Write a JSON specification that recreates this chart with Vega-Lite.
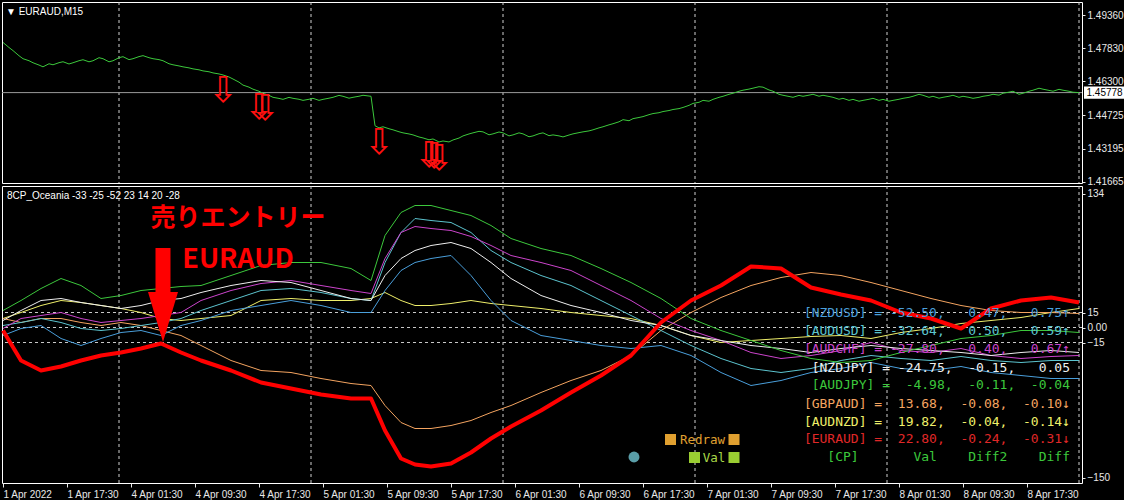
{
  "$schema": "https://vega.github.io/schema/vega-lite/v6.json",
  "background": "#000000",
  "padding": {"left": 0, "top": 1, "right": 0, "bottom": 0},
  "spacing": 3,
  "bounds": "flush",
  "config": {
    "view": {"stroke": "#FFFFFF", "strokeWidth": 1},
    "line": {"strokeJoin": "round"},
    "rule": {"strokeJoin": "round"},
    "axis": {"labelColor": "#E8E8E8", "tickColor": "#E8E8E8", "domain": false, "grid": false, "labelFont": "Liberation Sans", "labelFontSize": 10, "tickSize": 4, "labelOverlap": false, "labelFlush": false}
  },
  "datasets": {
    "grid": [{"i": 58}, {"i": 154}, {"i": 250}, {"i": 346}, {"i": 442}, {"i": 538}],
    "price": [
      {"i":0,"p":1.48094},{"i":3,"p":1.47860},{"i":5,"p":1.47718},{"i":8,"p":1.47480},{"i":10,"p":1.47343},{"i":13,"p":1.47250},{"i":15,"p":1.47156},{"i":18,"p":1.47050},{"i":20,"p":1.46968},{"i":23,"p":1.47110},{"i":25,"p":1.47062},{"i":28,"p":1.47160},{"i":30,"p":1.47203},{"i":33,"p":1.47100},{"i":35,"p":1.47156},{"i":38,"p":1.47250},{"i":40,"p":1.47296},{"i":43,"p":1.47200},{"i":45,"p":1.47249},{"i":48,"p":1.47390},{"i":50,"p":1.47343},{"i":53,"p":1.47200},{"i":55,"p":1.47249},{"i":58,"p":1.47390},{"i":60,"p":1.47437},{"i":63,"p":1.47300},{"i":65,"p":1.47343},{"i":68,"p":1.47440},{"i":70,"p":1.47484},{"i":73,"p":1.47390},{"i":75,"p":1.47343},{"i":78,"p":1.47300},{"i":80,"p":1.47249},{"i":83,"p":1.47110},{"i":85,"p":1.47062},{"i":88,"p":1.47010},{"i":90,"p":1.46968},{"i":93,"p":1.46920},{"i":95,"p":1.46874},{"i":98,"p":1.46830},{"i":100,"p":1.4678},{"i":103,"p":1.46740},{"i":105,"p":1.46687},{"i":108,"p":1.46640},{"i":110,"p":1.46593},{"i":113,"p":1.46500},{"i":115,"p":1.46405},{"i":118,"p":1.46260},{"i":120,"p":1.46124},{"i":123,"p":1.46030},{"i":125,"p":1.45936},{"i":128,"p":1.45840},{"i":130,"p":1.45749},{"i":133,"p":1.45650},{"i":135,"p":1.45561},{"i":138,"p":1.45510},{"i":140,"p":1.45467},{"i":143,"p":1.45560},{"i":145,"p":1.45514},{"i":148,"p":1.45470},{"i":150,"p":1.4542},{"i":153,"p":1.45470},{"i":155,"p":1.45514},{"i":158,"p":1.45420},{"i":160,"p":1.45467},{"i":163,"p":1.45520},{"i":165,"p":1.45561},{"i":168,"p":1.45650},{"i":170,"p":1.45608},{"i":173,"p":1.45520},{"i":175,"p":1.45561},{"i":178,"p":1.45610},{"i":180,"p":1.45655},{"i":184,"p":1.45608},{"i":186,"p":1.44248},{"i":188,"p":1.44150},{"i":190,"p":1.44201},{"i":193,"p":1.44110},{"i":195,"p":1.4406},{"i":198,"p":1.43970},{"i":200,"p":1.4392},{"i":203,"p":1.43870},{"i":205,"p":1.43826},{"i":208,"p":1.43730},{"i":210,"p":1.43685},{"i":213,"p":1.43600},{"i":215,"p":1.43638},{"i":218,"p":1.43500},{"i":220,"p":1.43544},{"i":223,"p":1.43500},{"i":225,"p":1.43591},{"i":228,"p":1.43680},{"i":230,"p":1.43779},{"i":233,"p":1.43870},{"i":235,"p":1.4392},{"i":238,"p":1.43990},{"i":240,"p":1.43966},{"i":243,"p":1.43830},{"i":245,"p":1.43873},{"i":248,"p":1.43960},{"i":250,"p":1.4392},{"i":253,"p":1.43780},{"i":255,"p":1.43826},{"i":258,"p":1.43920},{"i":260,"p":1.43873},{"i":263,"p":1.43740},{"i":265,"p":1.43779},{"i":268,"p":1.43880},{"i":270,"p":1.4392},{"i":273,"p":1.43790},{"i":275,"p":1.43826},{"i":278,"p":1.43780},{"i":280,"p":1.43732},{"i":283,"p":1.43820},{"i":285,"p":1.43873},{"i":288,"p":1.43930},{"i":290,"p":1.43966},{"i":293,"p":1.44010},{"i":295,"p":1.4406},{"i":298,"p":1.44150},{"i":300,"p":1.44201},{"i":303,"p":1.44290},{"i":305,"p":1.44342},{"i":308,"p":1.44430},{"i":310,"p":1.44529},{"i":313,"p":1.44480},{"i":315,"p":1.44576},{"i":318,"p":1.44630},{"i":320,"p":1.4467},{"i":323,"p":1.44760},{"i":325,"p":1.44811},{"i":328,"p":1.44850},{"i":330,"p":1.44904},{"i":333,"p":1.44950},{"i":335,"p":1.44998},{"i":338,"p":1.45040},{"i":340,"p":1.45092},{"i":343,"p":1.45190},{"i":345,"p":1.4528},{"i":348,"p":1.45330},{"i":350,"p":1.4542},{"i":353,"p":1.45380},{"i":355,"p":1.45467},{"i":358,"p":1.45560},{"i":360,"p":1.45608},{"i":363,"p":1.45700},{"i":365,"p":1.45749},{"i":368,"p":1.45840},{"i":370,"p":1.45889},{"i":373,"p":1.45940},{"i":375,"p":1.45983},{"i":378,"p":1.46050},{"i":380,"p":1.4603},{"i":383,"p":1.45900},{"i":385,"p":1.45842},{"i":388,"p":1.45700},{"i":390,"p":1.45655},{"i":393,"p":1.45600},{"i":395,"p":1.45561},{"i":398,"p":1.45650},{"i":400,"p":1.45608},{"i":403,"p":1.45660},{"i":405,"p":1.45702},{"i":408,"p":1.45610},{"i":410,"p":1.45655},{"i":413,"p":1.45600},{"i":415,"p":1.45561},{"i":418,"p":1.45470},{"i":420,"p":1.45514},{"i":423,"p":1.45420},{"i":425,"p":1.45467},{"i":428,"p":1.45380},{"i":430,"p":1.4542},{"i":433,"p":1.45470},{"i":435,"p":1.45514},{"i":438,"p":1.45420},{"i":440,"p":1.45467},{"i":443,"p":1.45380},{"i":445,"p":1.4542},{"i":448,"p":1.45470},{"i":450,"p":1.45514},{"i":453,"p":1.45560},{"i":455,"p":1.45608},{"i":458,"p":1.45700},{"i":460,"p":1.45655},{"i":463,"p":1.45560},{"i":465,"p":1.45608},{"i":468,"p":1.45520},{"i":470,"p":1.45561},{"i":473,"p":1.45610},{"i":475,"p":1.45655},{"i":478,"p":1.45560},{"i":480,"p":1.45608},{"i":483,"p":1.45560},{"i":485,"p":1.45514},{"i":488,"p":1.45560},{"i":490,"p":1.45608},{"i":493,"p":1.45650},{"i":495,"p":1.45702},{"i":498,"p":1.45660},{"i":500,"p":1.45749},{"i":503,"p":1.45800},{"i":505,"p":1.45842},{"i":508,"p":1.45700},{"i":510,"p":1.45749},{"i":513,"p":1.45840},{"i":515,"p":1.45889},{"i":518,"p":1.45980},{"i":520,"p":1.45936},{"i":523,"p":1.45880},{"i":525,"p":1.45842},{"i":528,"p":1.45930},{"i":530,"p":1.45889},{"i":533,"p":1.45840},{"i":535,"p":1.45796},{"i":538,"p":1.45778}
    ],
    "signals": [
      {"i":110,"p":1.45852},{"i":128,"p":1.4508},{"i":131,"p":1.4502},{"i":188,"p":1.43452},{"i":213,"p":1.4285},{"i":215.5,"p":1.4279},{"i":218,"p":1.4273}
    ],
    "series": [
      {"i":0,"EURAUD":-3,"GBPAUD":9,"AUDNZD":9,"NZDUSD":-8,"AUDUSD":2,"AUDCHF":-1,"NZDJPY":7,"AUDJPY":17},
      {"i":9,"EURAUD":-33,"GBPAUD":5,"AUDNZD":15,"NZDUSD":-1,"AUDUSD":5,"AUDCHF":9,"NZDJPY":17,"AUDJPY":27},
      {"i":19,"EURAUD":-43,"GBPAUD":9,"AUDNZD":22,"NZDUSD":2,"AUDUSD":9,"AUDCHF":12,"NZDJPY":27,"AUDJPY":39},
      {"i":29,"EURAUD":-39,"GBPAUD":9,"AUDNZD":27,"NZDUSD":-11,"AUDUSD":5,"AUDCHF":15,"NZDJPY":29,"AUDJPY":49},
      {"i":39,"EURAUD":-33,"GBPAUD":5,"AUDNZD":25,"NZDUSD":-18,"AUDUSD":-1,"AUDCHF":9,"NZDJPY":25,"AUDJPY":42},
      {"i":49,"EURAUD":-28,"GBPAUD":2,"AUDNZD":22,"NZDUSD":-11,"AUDUSD":-3,"AUDCHF":5,"NZDJPY":22,"AUDJPY":29},
      {"i":59,"EURAUD":-25,"GBPAUD":5,"AUDNZD":19,"NZDUSD":-5,"AUDUSD":-1,"AUDCHF":7,"NZDJPY":19,"AUDJPY":32},
      {"i":69,"EURAUD":-21,"GBPAUD":2,"AUDNZD":15,"NZDUSD":-3,"AUDUSD":2,"AUDCHF":9,"NZDJPY":22,"AUDJPY":37},
      {"i":79,"EURAUD":-16,"GBPAUD":-3,"AUDNZD":9,"NZDUSD":-8,"AUDUSD":5,"AUDCHF":12,"NZDJPY":27,"AUDJPY":39},
      {"i":89,"EURAUD":-25,"GBPAUD":-8,"AUDNZD":7,"NZDUSD":2,"AUDUSD":9,"AUDCHF":15,"NZDJPY":29,"AUDJPY":41},
      {"i":99,"EURAUD":-33,"GBPAUD":-18,"AUDNZD":9,"NZDUSD":7,"AUDUSD":17,"AUDCHF":27,"NZDJPY":35,"AUDJPY":42},
      {"i":114,"EURAUD":-43,"GBPAUD":-33,"AUDNZD":12,"NZDUSD":17,"AUDUSD":27,"AUDCHF":37,"NZDJPY":42,"AUDJPY":52},
      {"i":129,"EURAUD":-55,"GBPAUD":-43,"AUDNZD":27,"NZDUSD":22,"AUDUSD":37,"AUDCHF":44,"NZDJPY":47,"AUDJPY":62},
      {"i":144,"EURAUD":-61,"GBPAUD":-45,"AUDNZD":29,"NZDUSD":27,"AUDUSD":39,"AUDCHF":47,"NZDJPY":45,"AUDJPY":65},
      {"i":159,"EURAUD":-67,"GBPAUD":-51,"AUDNZD":27,"NZDUSD":22,"AUDUSD":35,"AUDCHF":42,"NZDJPY":37,"AUDJPY":65},
      {"i":174,"EURAUD":-71,"GBPAUD":-56,"AUDNZD":27,"NZDUSD":15,"AUDUSD":29,"AUDCHF":37,"NZDJPY":29,"AUDJPY":59},
      {"i":184,"EURAUD":-71,"GBPAUD":-58,"AUDNZD":29,"NZDUSD":15,"AUDUSD":27,"AUDCHF":34,"NZDJPY":27,"AUDJPY":47},
      {"i":191,"EURAUD":-103,"GBPAUD":-78,"AUDNZD":35,"NZDUSD":37,"AUDUSD":65,"AUDCHF":69,"NZDJPY":52,"AUDJPY":92},
      {"i":199,"EURAUD":-131,"GBPAUD":-95,"AUDNZD":27,"NZDUSD":57,"AUDUSD":95,"AUDCHF":95,"NZDJPY":69,"AUDJPY":115},
      {"i":206,"EURAUD":-137,"GBPAUD":-101,"AUDNZD":22,"NZDUSD":65,"AUDUSD":109,"AUDCHF":101,"NZDJPY":77,"AUDJPY":122},
      {"i":214,"EURAUD":-139,"GBPAUD":-101,"AUDNZD":22,"NZDUSD":69,"AUDUSD":107,"AUDCHF":99,"NZDJPY":82,"AUDJPY":122},
      {"i":224,"EURAUD":-136,"GBPAUD":-98,"AUDNZD":24,"NZDUSD":72,"AUDUSD":105,"AUDCHF":97,"NZDJPY":85,"AUDJPY":117},
      {"i":234,"EURAUD":-125,"GBPAUD":-93,"AUDNZD":27,"NZDUSD":52,"AUDUSD":95,"AUDCHF":91,"NZDJPY":79,"AUDJPY":112},
      {"i":244,"EURAUD":-111,"GBPAUD":-85,"AUDNZD":24,"NZDUSD":27,"AUDUSD":77,"AUDCHF":82,"NZDJPY":65,"AUDJPY":102},
      {"i":254,"EURAUD":-99,"GBPAUD":-78,"AUDNZD":22,"NZDUSD":7,"AUDUSD":65,"AUDCHF":72,"NZDJPY":49,"AUDJPY":89},
      {"i":269,"EURAUD":-83,"GBPAUD":-65,"AUDNZD":19,"NZDUSD":-8,"AUDUSD":52,"AUDCHF":65,"NZDJPY":32,"AUDJPY":79},
      {"i":284,"EURAUD":-65,"GBPAUD":-53,"AUDNZD":15,"NZDUSD":-13,"AUDUSD":42,"AUDCHF":57,"NZDJPY":22,"AUDJPY":72},
      {"i":299,"EURAUD":-48,"GBPAUD":-43,"AUDNZD":12,"NZDUSD":-18,"AUDUSD":27,"AUDCHF":42,"NZDJPY":15,"AUDJPY":59},
      {"i":314,"EURAUD":-28,"GBPAUD":-28,"AUDNZD":9,"NZDUSD":-21,"AUDUSD":12,"AUDCHF":27,"NZDJPY":7,"AUDJPY":45},
      {"i":329,"EURAUD":5,"GBPAUD":-3,"AUDNZD":2,"NZDUSD":-18,"AUDUSD":-3,"AUDCHF":9,"NZDJPY":2,"AUDJPY":29},
      {"i":344,"EURAUD":27,"GBPAUD":15,"AUDNZD":-8,"NZDUSD":-28,"AUDUSD":-18,"AUDCHF":-3,"NZDJPY":-8,"AUDJPY":9},
      {"i":359,"EURAUD":42,"GBPAUD":30,"AUDNZD":-15,"NZDUSD":-45,"AUDUSD":-31,"AUDCHF":-13,"NZDJPY":-13,"AUDJPY":-3},
      {"i":374,"EURAUD":61,"GBPAUD":42,"AUDNZD":-13,"NZDUSD":-58,"AUDUSD":-41,"AUDCHF":-25,"NZDJPY":-18,"AUDJPY":-13},
      {"i":389,"EURAUD":59,"GBPAUD":50,"AUDNZD":-11,"NZDUSD":-53,"AUDUSD":-45,"AUDCHF":-31,"NZDJPY":-21,"AUDJPY":-23},
      {"i":404,"EURAUD":40,"GBPAUD":55,"AUDNZD":-9,"NZDUSD":-45,"AUDUSD":-41,"AUDCHF":-28,"NZDJPY":-25,"AUDJPY":-31},
      {"i":419,"EURAUD":33,"GBPAUD":52,"AUDNZD":-8,"NZDUSD":-41,"AUDUSD":-33,"AUDCHF":-23,"NZDJPY":-21,"AUDJPY":-35},
      {"i":434,"EURAUD":27,"GBPAUD":45,"AUDNZD":-11,"NZDUSD":-35,"AUDUSD":-28,"AUDCHF":-15,"NZDJPY":-18,"AUDJPY":-33},
      {"i":449,"EURAUD":15,"GBPAUD":37,"AUDNZD":-5,"NZDUSD":-41,"AUDUSD":-31,"AUDCHF":-23,"NZDJPY":-21,"AUDJPY":-25},
      {"i":464,"EURAUD":9,"GBPAUD":29,"AUDNZD":-1,"NZDUSD":-43,"AUDUSD":-33,"AUDCHF":-25,"NZDJPY":-23,"AUDJPY":-18},
      {"i":479,"EURAUD":-1,"GBPAUD":22,"AUDNZD":4,"NZDUSD":-39,"AUDUSD":-29,"AUDCHF":-21,"NZDJPY":-25,"AUDJPY":-11},
      {"i":494,"EURAUD":19,"GBPAUD":17,"AUDNZD":7,"NZDUSD":-45,"AUDUSD":-33,"AUDCHF":-28,"NZDJPY":-28,"AUDJPY":-8},
      {"i":509,"EURAUD":27,"GBPAUD":15,"AUDNZD":10,"NZDUSD":-48,"AUDUSD":-35,"AUDCHF":-31,"NZDJPY":-25,"AUDJPY":-3},
      {"i":524,"EURAUD":30,"GBPAUD":15,"AUDNZD":15,"NZDUSD":-51,"AUDUSD":-33,"AUDCHF":-29,"NZDJPY":-23,"AUDJPY":-3},
      {"i":538,"EURAUD":25,"GBPAUD":14,"AUDNZD":19,"NZDUSD":-51,"AUDUSD":-33,"AUDCHF":-28,"NZDJPY":-25,"AUDJPY":-5}
    ],
    "levels": [{"v": 15}, {"v": 0}, {"v": -15}],
    "table": [
      {"pair":"NZDUSD","i":533.5,"v":14.5,"txt":"[NZDUSD]\u00a0=\u00a0-52.50,\u00a0\u00a0\u00a00.47,\u00a0\u00a0\u00a00.75↑"},
      {"pair":"AUDUSD","i":533.5,"v":-3.5,"txt":"[AUDUSD]\u00a0=\u00a0-32.64,\u00a0\u00a0\u00a00.50,\u00a0\u00a0\u00a00.59↑"},
      {"pair":"AUDCHF","i":533.5,"v":-21.5,"txt":"[AUDCHF]\u00a0=\u00a0-27.80,\u00a0\u00a0\u00a00.40,\u00a0\u00a0\u00a00.67↑"},
      {"pair":"NZDJPY","i":533.5,"v":-40.5,"txt":"[NZDJPY]\u00a0=\u00a0-24.75,\u00a0\u00a0-0.15,\u00a0\u00a0\u00a00.05"},
      {"pair":"AUDJPY","i":533.5,"v":-57.5,"txt":"[AUDJPY]\u00a0=\u00a0\u00a0-4.98,\u00a0\u00a0-0.11,\u00a0\u00a0-0.04"},
      {"pair":"GBPAUD","i":533.5,"v":-76.5,"txt":"[GBPAUD]\u00a0=\u00a0\u00a013.68,\u00a0\u00a0-0.08,\u00a0\u00a0-0.10↓"},
      {"pair":"AUDNZD","i":533.5,"v":-94.5,"txt":"[AUDNZD]\u00a0=\u00a0\u00a019.82,\u00a0\u00a0-0.04,\u00a0\u00a0-0.14↓"},
      {"pair":"EURAUD","i":533.5,"v":-111.5,"txt":"[EURAUD]\u00a0=\u00a0\u00a022.80,\u00a0\u00a0-0.24,\u00a0\u00a0-0.31↓"},
      {"pair":"CP","i":533.5,"v":-129.5,"txt":"[CP]\u00a0\u00a0\u00a0\u00a0\u00a0\u00a0\u00a0Val\u00a0\u00a0\u00a0\u00a0Diff2\u00a0\u00a0\u00a0\u00a0Diff"}
    ]
  },
  "vconcat": [
    {
      "width": 1080,
      "height": 181,
      "resolve": {"axis": {"x": "independent", "y": "independent"}},
      "layer": [
        {
          "data": {"name": "grid"},
          "mark": {"type": "rule", "color": "#D0D0D0", "strokeDash": [3, 3], "strokeWidth": 1},
          "encoding": {"x": {"field": "i", "type": "quantitative", "scale": {"domain": [-0.5, 539.5], "nice": false, "zero": false}, "axis": null}}
        },
        {
          "data": {"values": [{}]},
          "mark": {"type": "rule", "color": "#9A9A9A", "strokeWidth": 1},
          "encoding": {"y": {"datum": 1.45778, "type": "quantitative", "scale": {"domain": [1.41605, 1.49961], "nice": false, "zero": false}, "axis": null}}
        },
        {
          "data": {"name": "price"},
          "mark": {"type": "line", "color": "#3CC83C", "strokeWidth": 1},
          "encoding": {
            "x": {"field": "i", "type": "quantitative", "axis": null},
            "y": {"field": "p", "type": "quantitative",
                  "axis": {"orient": "right", "title": null, "values": [1.4936, 1.4783, 1.463, 1.44725, 1.43195, 1.41665], "format": ".5f", "tickSize": 3, "labelPadding": 2}}
          }
        },
        {
          "data": {"name": "signals"},
          "mark": {"type": "text", "text": "⇩", "color": "#FF1010", "fontSize": 36, "font": "DejaVu Sans"},
          "encoding": {
            "x": {"field": "i", "type": "quantitative", "axis": null},
            "y": {"field": "p", "type": "quantitative", "axis": null}
          }
        },
        {
          "data": {"values": [{"i": 1.5, "p": 1.4950, "t": "▼ EURAUD,M15"}]},
          "mark": {"type": "text", "align": "left", "baseline": "middle", "color": "#FFFFFF", "fontSize": 10, "font": "Liberation Sans"},
          "encoding": {
            "x": {"field": "i", "type": "quantitative", "axis": null},
            "y": {"field": "p", "type": "quantitative", "axis": null},
            "text": {"field": "t"}
          }
        },
        {
          "data": {"values": [{}]},
          "mark": {"type": "rect", "color": "#FFFFFF"},
          "encoding": {
            "x": {"datum": 540.5, "type": "quantitative", "axis": null},
            "x2": {"datum": 561},
            "y": {"datum": 1.4606, "type": "quantitative", "axis": null},
            "y2": {"datum": 1.45496}
          }
        },
        {
          "data": {"values": [{"t": "1.45778"}]},
          "mark": {"type": "text", "color": "#000000", "fontSize": 10, "font": "Liberation Sans", "align": "center", "baseline": "middle"},
          "encoding": {
            "x": {"datum": 550.8, "type": "quantitative", "axis": null},
            "y": {"datum": 1.45778, "type": "quantitative", "axis": null},
            "text": {"field": "t"}
          }
        }
      ]
    },
    {
      "width": 1080,
      "height": 297,
      "resolve": {"axis": {"x": "independent", "y": "independent"}},
      "layer": [
        {
          "data": {"name": "grid"},
          "mark": {"type": "rule", "color": "#D0D0D0", "strokeDash": [3, 3], "strokeWidth": 1},
          "encoding": {"x": {"field": "i", "type": "quantitative", "scale": {"domain": [-0.5, 539.5], "nice": false, "zero": false},
                  "axis": {"orient": "bottom", "title": null, "values": [0, 32, 64, 96, 128, 160, 192, 224, 256, 288, 320, 352, 384, 416, 448, 480, 512],
                           "labelExpr": "['1 Apr 2022','1 Apr 17:30','4 Apr 01:30','4 Apr 09:30','4 Apr 17:30','5 Apr 01:30','5 Apr 09:30','5 Apr 17:30','6 Apr 01:30','6 Apr 09:30','6 Apr 17:30','7 Apr 01:30','7 Apr 09:30','7 Apr 17:30','8 Apr 01:30','8 Apr 09:30','8 Apr 17:30'][round(datum.value/32)]",
                           "labelAlign": "left", "labelBaseline": "top", "labelPadding": 2, "tickSize": 4}}}
        },
        {
          "data": {"name": "levels"},
          "mark": {"type": "rule", "color": "#C8C8C8", "strokeDash": [3, 3], "strokeWidth": 1},
          "encoding": {"y": {"field": "v", "type": "quantitative", "scale": {"domain": [-155.5, 141.5], "nice": false, "zero": false},
                  "axis": {"orient": "right", "title": null, "values": [134, 15, 0, -15, -150], "format": "d", "labelExpr": "datum.value == 0 ? '0.00' : datum.label", "tickSize": 3, "labelPadding": 2}}}
        },
        {
          "data": {"name": "series"},
          "transform": [{"fold": ["AUDNZD", "GBPAUD", "NZDUSD", "AUDUSD", "AUDCHF", "NZDJPY", "AUDJPY"], "as": ["pair", "v"]}],
          "mark": {"type": "line", "strokeWidth": 1},
          "encoding": {
            "x": {"field": "i", "type": "quantitative", "axis": null},
            "y": {"field": "v", "type": "quantitative", "axis": null},
            "color": {"field": "pair", "type": "nominal", "legend": null,
                      "scale": {"domain": ["NZDUSD", "AUDUSD", "AUDCHF", "NZDJPY", "AUDJPY", "GBPAUD", "AUDNZD", "EURAUD", "CP"],
                                "range": ["#4A9FDB", "#5CC4CF", "#CC44CC", "#EEEEEE", "#3CC83C", "#F4A460", "#EFEF6A", "#E02828", "#3CC83C"]}}
          }
        },
        {
          "data": {"name": "series"},
          "mark": {"type": "line", "color": "#FF0000", "strokeWidth": 4},
          "encoding": {
            "x": {"field": "i", "type": "quantitative", "axis": null},
            "y": {"field": "EURAUD", "type": "quantitative", "axis": null}
          }
        },
        {
          "data": {"name": "table"},
          "mark": {"type": "text", "align": "right", "baseline": "middle", "font": "DejaVu Sans Mono", "fontSize": 13},
          "encoding": {
            "x": {"field": "i", "type": "quantitative", "axis": null},
            "y": {"field": "v", "type": "quantitative", "axis": null},
            "text": {"field": "txt"},
            "color": {"field": "pair", "type": "nominal", "legend": null}
          }
        },
        {
          "data": {"values": [{"i": 2, "v": 131.5, "t": "8CP_Oceania -33 -25 -52 23 14 20 -28"}]},
          "mark": {"type": "text", "align": "left", "baseline": "middle", "color": "#FFFFFF", "fontSize": 10, "font": "Liberation Sans"},
          "encoding": {
            "x": {"field": "i", "type": "quantitative", "axis": null},
            "y": {"field": "v", "type": "quantitative", "axis": null},
            "text": {"field": "t"}
          }
        },
        {
          "data": {"values": [{"i": 117.5, "v": 109.5, "t": "売りエントリー"}]},
          "mark": {"type": "text", "align": "center", "baseline": "middle", "color": "#FF0000", "fontSize": 25, "fontWeight": "bold", "font": "Noto Sans CJK JP"},
          "encoding": {
            "x": {"field": "i", "type": "quantitative", "axis": null},
            "y": {"field": "v", "type": "quantitative", "axis": null},
            "text": {"field": "t"}
          }
        },
        {
          "data": {"values": [{"i": 117.5, "v": 67.5, "t": "EURAUD"}]},
          "mark": {"type": "text", "align": "center", "baseline": "middle", "color": "#FF0000", "fontSize": 27, "fontWeight": "bold", "font": "Noto Sans CJK JP"},
          "encoding": {
            "x": {"field": "i", "type": "quantitative", "axis": null},
            "y": {"field": "v", "type": "quantitative", "axis": null},
            "text": {"field": "t"}
          }
        },
        {
          "data": {"values": [{}]},
          "mark": {"type": "rule", "color": "#FF0000", "strokeWidth": 15},
          "encoding": {
            "x": {"datum": 80, "type": "quantitative", "axis": null},
            "y": {"datum": 79.5, "type": "quantitative", "axis": null},
            "y2": {"datum": 32}
          }
        },
        {
          "data": {"values": [{}]},
          "mark": {"type": "point", "filled": true, "color": "#FF0000", "opacity": 1, "size": 900, "shape": "M-1,-1L1,-1L0,2.33Z"},
          "encoding": {
            "x": {"datum": 80, "type": "quantitative", "axis": null},
            "y": {"datum": 20.5, "type": "quantitative", "axis": null}
          }
        },
        {
          "data": {"values": [{"i": 333.75, "v": -112}, {"i": 365.5, "v": -112}]},
          "mark": {"type": "point", "shape": "square", "filled": true, "opacity": 1, "size": 121, "color": "#E0A030"},
          "encoding": {
            "x": {"field": "i", "type": "quantitative", "axis": null},
            "y": {"field": "v", "type": "quantitative", "axis": null}
          }
        },
        {
          "data": {"values": [{"i": 349.75, "v": -112, "t": "Redraw"}]},
          "mark": {"type": "text", "align": "center", "baseline": "middle", "color": "#E0A030", "fontSize": 12.5, "font": "DejaVu Sans Mono"},
          "encoding": {
            "x": {"field": "i", "type": "quantitative", "axis": null},
            "y": {"field": "v", "type": "quantitative", "axis": null},
            "text": {"field": "t"}
          }
        },
        {
          "data": {"values": [{"i": 345.75, "v": -130}, {"i": 365.5, "v": -130}]},
          "mark": {"type": "point", "shape": "square", "filled": true, "opacity": 1, "size": 121, "color": "#9ACD32"},
          "encoding": {
            "x": {"field": "i", "type": "quantitative", "axis": null},
            "y": {"field": "v", "type": "quantitative", "axis": null}
          }
        },
        {
          "data": {"values": [{"i": 355.5, "v": -130, "t": "Val"}]},
          "mark": {"type": "text", "align": "center", "baseline": "middle", "color": "#A8D848", "fontSize": 12.5, "font": "DejaVu Sans Mono"},
          "encoding": {
            "x": {"field": "i", "type": "quantitative", "axis": null},
            "y": {"field": "v", "type": "quantitative", "axis": null},
            "text": {"field": "t"}
          }
        },
        {
          "data": {"values": [{"i": 315.5, "v": -129.5}]},
          "mark": {"type": "point", "shape": "circle", "filled": true, "opacity": 1, "size": 120, "color": "#5A9EA8"},
          "encoding": {
            "x": {"field": "i", "type": "quantitative", "axis": null},
            "y": {"field": "v", "type": "quantitative", "axis": null}
          }
        }
      ]
    }
  ]
}
